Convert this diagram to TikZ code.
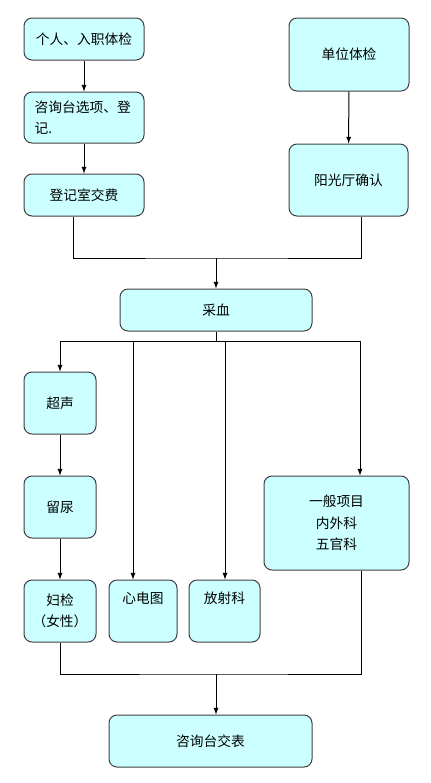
\documentclass[tikz,border=0pt]{standalone}
\usepackage{fontspec}
\newfontfamily\cjk{Noto Sans CJK SC}
\usepackage{tikz}
\usetikzlibrary{arrows}
\definecolor{boxcyan}{HTML}{CCFFFF}
\definecolor{boxline}{HTML}{404040}

\tikzset{
  box/.style={draw=boxline,fill=boxcyan,rounded corners=6pt,line width=0.75pt,
    align=center,inner sep=2pt,font=\cjk\fontsize{10.3pt}{16pt}\selectfont},
  toptext/.style={text height=8pt,text depth=20pt}
}

\begin{document}
\begin{tikzpicture}[>=latex,x=0.75pt,y=-0.75pt,line width=0.75pt]
      \path[use as bounding box] (0,0) rectangle (431,783);

      % registration
      \node[box,minimum width=90pt,minimum height=31.5pt] (A) at (84,39) {个人、入职体检};
      \node[box,text width=74pt,inner xsep=8pt,align=left,minimum height=38.25pt] (B) at (84,117.5) {咨询台选项、登\\记.};
      \node[box,minimum width=90pt,minimum height=31.5pt] (C) at (84,195) {登记室交费};

      \node[box,minimum width=90pt,minimum height=54.75pt] (D) at (349,54.5) {单位体检};
      \node[box,minimum width=89.25pt,minimum height=54pt] (E) at (348.5,180) {阳光厅确认};

      \node[box,minimum width=144pt,minimum height=31.5pt] (F) at (216,310) {采血};

      % examinations
      \node[box,minimum width=54pt,minimum height=46.5pt] (G) at (60,403) {超声};
      \node[box,minimum width=54pt,minimum height=46.5pt] (H) at (60,507) {留尿};
      \node[box,minimum width=54pt,minimum height=46.5pt] (I) at (60,611) {妇检\\（女性）};
      \node[box,toptext,minimum width=51pt,minimum height=46.5pt] (J) at (143,611) {心电图};
      \node[box,toptext,minimum width=53.25pt,minimum height=46.5pt] (K) at (224.5,611) {放射科};
      \node[box,minimum width=108.75pt,minimum height=70.5pt] (L) at (336.5,523) {一般项目\\内外科\\五官科};

      \node[box,minimum width=152.25pt,minimum height=39pt] (M) at (210.5,741) {咨询台交表};

      \draw[->] (A) -- (B);
      \draw[->] (B) -- (C);
      \draw[->] (D) -- (E);

      % join before 采血
      \coordinate (m1) at (216,258);
      \draw ([xshift=-8.25pt]C.south) |- (m1) -| ([xshift=9.5pt]E.south);
      \draw[->] (m1) -- (F);

      % split after 采血
      \coordinate (sG) at (60,341);
      \coordinate (sJ) at (133,341);
      \coordinate (sK) at (225,341);
      \coordinate (sL) at (360,341);
      \draw (F.south) -- (F.south |- sG);
      \draw (sG) -- (sL);
      \draw[->] (sG) -- (G);
      \draw[->] (sJ) -- (sJ |- J.north);
      \draw[->] (sK) -- (sK |- K.north);
      \draw[->] (sL) -- (sL |- L.north);
      \draw[->] (G) -- (H);
      \draw[->] (H) -- (I);

      % join before 咨询台交表
      \coordinate (m2) at (216,674);
      \draw (I.south) |- (m2) -| ([xshift=18.4pt]L.south);
      \draw[->] (m2) -- (m2 |- M.north);
\end{tikzpicture}
\end{document}
